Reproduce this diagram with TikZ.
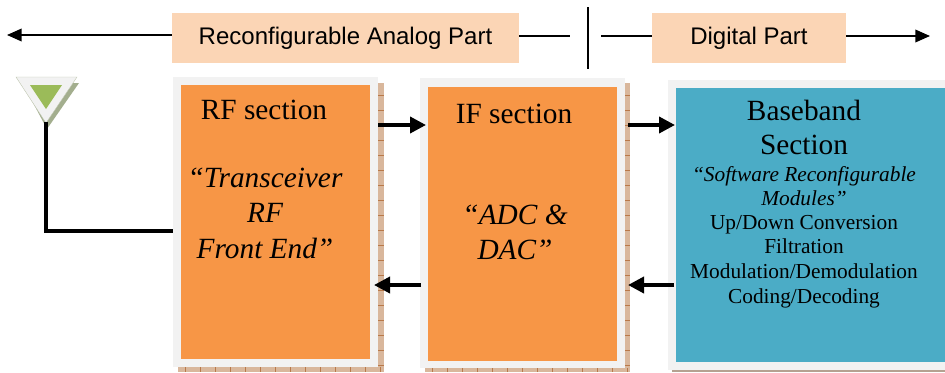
\documentclass[tikz,border=0pt]{standalone}
\usepackage{fontspec}
\setmainfont{Liberation Serif}
\setsansfont{Liberation Sans}
\usetikzlibrary{arrows.meta,patterns}
\definecolor{peachc}{HTML}{FBD5B5}
\definecolor{orangec}{HTML}{F79646}
\definecolor{bluec}{HTML}{4BACC6}
\definecolor{grayc}{HTML}{F2F2F2}
\definecolor{shadc}{HTML}{D9B79C}
\definecolor{shadt}{HTML}{B9794A}
\definecolor{shadg}{HTML}{A3AE8E}
\definecolor{greenc}{HTML}{9BBB59}
\tikzset{
 x=0.75pt,y=-0.75pt,
 header/.style={fill=peachc,font=\sffamily\fontsize{18}{20}\selectfont,inner sep=0pt,anchor=center},
 outerbox/.style={fill=grayc},
 shadowbox/.style={fill=shadc},
 tick/.style={draw=shadt,line width=0.45pt},
 flow/.style={line width=2.8pt,-{Triangle[length=12pt,width=12pt]}},
 thinarrow/.style={line width=1.1pt,-{Triangle[length=11pt,width=9.5pt]}},
 plainline/.style={line width=1.1pt},
 feed/.style={line width=2.8pt},
 title/.style={font=\fontsize{22}{25.5}\selectfont,align=center,inner sep=0pt},
 emph/.style={font=\itshape\fontsize{22}{26.6}\selectfont,align=center,inner sep=0pt},
 small/.style={font=\fontsize{16}{18.5}\selectfont,align=center,inner sep=0pt},
}
\begin{document}
\begin{tikzpicture}
\useasboundingbox (0,0) rectangle (945,372);
% shadows
\fill[shadowbox] (178,83) rectangle (384,372);
\fill[shadowbox] (425,83) rectangle (630,372);
\fill[shadc!60!gray] (672,370) rectangle (945,372);
\foreach \y in {95,110,...,365} {
  \draw[tick] (378,\y) -- (384,\y);
  \draw[tick] (625,\y) -- (630,\y);
}
\foreach \x in {185,200,...,380} \draw[tick] (\x,367) -- (\x,372);
\foreach \x in {432,447,...,627} \draw[tick] (\x,368) -- (\x,372);
% panels
\fill[outerbox] (173,77) rectangle (378,367);
\fill[outerbox] (420,78) rectangle (625,368);
\fill[outerbox] (668,80) rectangle (945,370);
\node[fill=orangec,minimum width=189*0.75pt,minimum height=274*0.75pt,inner sep=0pt] (rf) at (275.5,222) {};
\node[fill=orangec,minimum width=189*0.75pt,minimum height=274*0.75pt,inner sep=0pt] (if) at (522.5,223.5) {};
\node[fill=bluec,minimum width=269*0.75pt,minimum height=274*0.75pt,inner sep=0pt] (bb) at (810.5,225) {};
% panel edges as connector ends
\coordinate (rfR1) at (378,125);
\coordinate (ifL1) at (426,125);
\coordinate (ifR1) at (628,125);
\coordinate (bbL1) at (675,125);
\coordinate (bbL2) at (674,285);
\coordinate (ifR2) at (628,285);
\coordinate (ifL2) at (421,285);
\coordinate (rfR2) at (374,285);
\coordinate (rfL) at (173,231);
% header
\node[header,minimum width=347*0.75pt,minimum height=50*0.75pt] (ana) at (345.5,38) {Reconfigurable Analog Part};
\node[header,minimum width=194*0.75pt,minimum height=50*0.75pt] (dig) at (749,38) {Digital Part};
\coordinate (leftend) at (7,35);
\coordinate (rightend) at (930,36);
\coordinate (divtop) at (588,7);
\coordinate (divbot) at (588,69);
\coordinate (anaend) at (570,36);
\coordinate (digstart) at (601,36);
\draw[thinarrow] (ana.west |- leftend) -- (leftend);
\draw[plainline] (ana.east |- anaend) -- (anaend);
\draw[plainline] (digstart) -- (dig.west |- digstart);
\draw[thinarrow] (dig.east |- rightend) -- (rightend);
\draw[line width=1.4pt] (divtop) -- (divbot);
% antenna
\fill[shadg] (23,84) -- (79,83) -- (47,129) -- cycle;
\fill[grayc,draw=shadg!70!white,line width=0.3pt] (16,77) -- (77,77) -- (46,123) -- cycle;
\fill[greenc] (30,85) -- (62,85) -- (46,109) -- cycle;
\coordinate (ant) at (46,122);
\draw[feed] (ant) -- (46,231) -- (rfL);
% flows
\draw[flow] (rfR1) -- (ifL1);
\draw[flow] (ifR1) -- (bbL1);
\draw[flow] (bbL2) -- (ifR2);
\draw[flow] (ifL2) -- (rfR2);
% texts
\node[title,anchor=center] at (264,110) {RF section};
\node[emph,anchor=center] at (265,213) {“Transceiver\\RF\\Front End”};
\node[title,anchor=center] at (514,114) {IF section};
\node[emph,anchor=center] at (515,232.5) {“ADC \&\\DAC”};
\node[title,anchor=center] at (804,127) {Baseband\\Section};
\node[font=\itshape\fontsize{16}{18.5}\selectfont,align=center,inner sep=0pt] at (804,186) {“Software Reconfigurable\\Modules”};
\node[small] at (804,261.5) {Up/Down Conversion\\Filtration\\Modulation/Demodulation\\Coding/Decoding};
\end{tikzpicture}
\end{document}
